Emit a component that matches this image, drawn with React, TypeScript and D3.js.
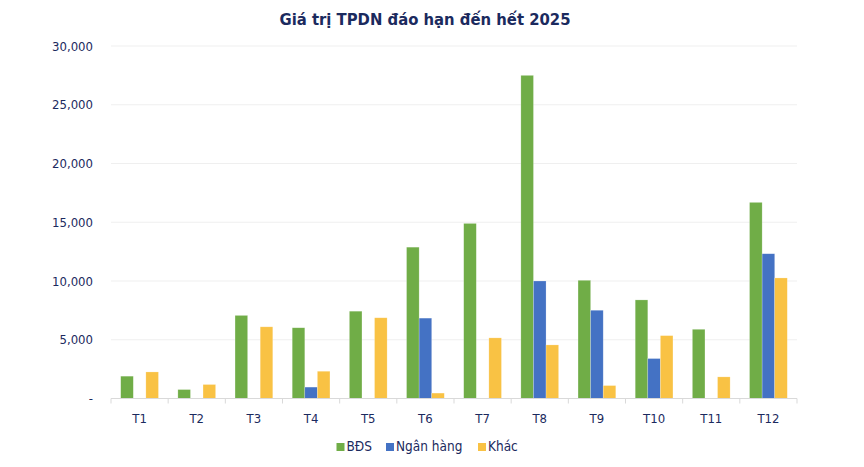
import React from "react";
import * as d3 from "d3";

const categories = ["T1", "T2", "T3", "T4", "T5", "T6", "T7", "T8", "T9", "T10", "T11", "T12"];
const seriesNames = ["BĐS", "Ngân hàng", "Khác"];
const bdsValues = [1900, 760, 7070, 6020, 7430, 12880, 14900, 27500, 10060, 8390, 5890, 16690];
const bankValues = [0, 0, 0, 970, 0, 6840, 0, 10000, 7510, 3400, 30, 12320];
const otherValues = [2260, 1190, 6100, 2320, 6870, 460, 5160, 4560, 1100, 5350, 1840, 10260];
const yTicks = [0, 5000, 10000, 15000, 20000, 25000, 30000];
const colors = ["#70AD47", "#4472C4", "#F9C244"];

const W = 864;
const H = 467;
const left = 111;
const right = 797;
const top = 46;
const bottom = 398.5;
const navy = "#1B2A5E";
const font = "'DejaVu Sans Condensed', 'DejaVu Sans', Verdana, sans-serif";

export default function App() {
  const values = [bdsValues, bankValues, otherValues];
  const x0 = d3.scaleBand<string>().domain(categories).range([left, right]).paddingInner(0).paddingOuter(0);
  const bw = x0.bandwidth();
  const groupW = bw * 0.66;
  const x1 = d3
    .scaleBand<string>()
    .domain(seriesNames)
    .range([(bw - groupW) / 2, (bw + groupW) / 2])
    .padding(0);
  const y = d3.scaleLinear().domain([0, 30000]).range([bottom, top]);
  const fmt = d3.format(",");

  const legendItems = [
    { name: seriesNames[0], sx: 336.5 },
    { name: seriesNames[1], sx: 386 },
    { name: seriesNames[2], sx: 478 },
  ];

  return (
    <svg width={W} height={H} style={{ position: "absolute", left: 0, top: 0, background: "#fff" }}>
      <text x={425} y={25} textAnchor="middle" fontFamily={font} fontWeight="bold" fontSize={16.5} fill={navy}>
        Giá trị TPDN đáo hạn đến hết 2025
      </text>
      {yTicks.map((t) => (
        <g key={t}>
          {t > 0 && <line x1={left} x2={right} y1={y(t)} y2={y(t)} stroke="#EFEFEF" strokeWidth={1} />}
          <text
            x={93}
            y={y(t)}
            dy="0.35em"
            textAnchor="end"
            fontFamily={font}
            fontSize={13}
            fill={navy}
          >
            {t === 0 ? "-" : fmt(t)}
          </text>
        </g>
      ))}
      {values.map((vals, si) =>
        categories.map((c, ci) => {
          const v = vals[ci];
          if (v <= 0) return null;
          const xb = (x0(c) ?? 0) + (x1(seriesNames[si]) ?? 0);
          return (
            <rect
              key={`${si}-${ci}`}
              x={xb}
              y={y(v)}
              width={x1.bandwidth()}
              height={bottom - y(v)}
              fill={colors[si]}
              stroke="#ffffff"
              strokeOpacity={0.35}
              strokeWidth={0.6}
            />
          );
        })
      )}
      <line x1={left} x2={right} y1={bottom} y2={bottom} stroke="#D9D9D9" strokeWidth={1.2} />
      {[...categories.map((c) => x0(c) ?? 0), right].map((xx, i) => (
        <line key={i} x1={xx} x2={xx} y1={bottom} y2={bottom + 5} stroke="#D9D9D9" strokeWidth={1} />
      ))}
      {categories.map((c) => (
        <text
          key={c}
          x={(x0(c) ?? 0) + bw / 2}
          y={418}
          dy="0.35em"
          textAnchor="middle"
          fontFamily={font}
          fontSize={13}
          fill={navy}
        >
          {c}
        </text>
      ))}
      {legendItems.map((it, i) => (
        <g key={it.name}>
          <rect x={it.sx} y={443} width={8} height={8} fill={colors[i]} />
          <text x={it.sx + 10} y={446.5} dy="0.35em" fontFamily={font} fontSize={13.5} fill={navy}>
            {it.name}
          </text>
        </g>
      ))}
    </svg>
  );
}
